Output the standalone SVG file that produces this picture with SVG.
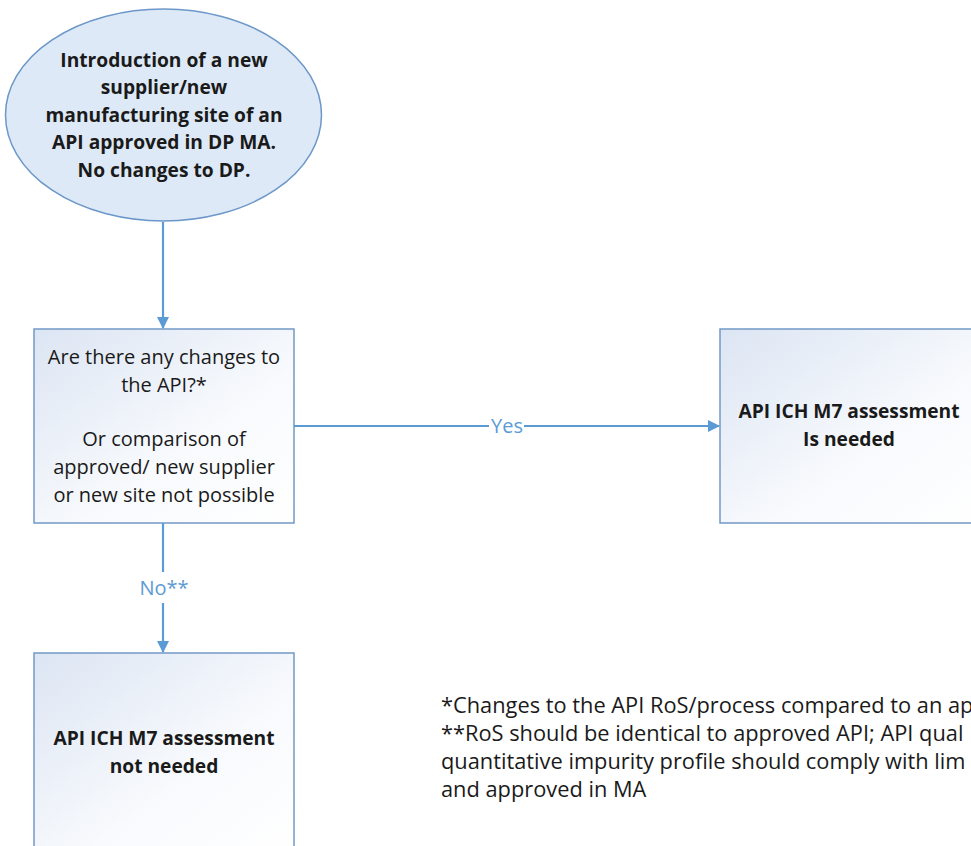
<svg xmlns="http://www.w3.org/2000/svg" width="971" height="846" viewBox="0 0 971 846">
<style>
.box{stroke:#7399c6;stroke-width:1.5;fill:url(#g)}
.ell{stroke:#6c97c9;stroke-width:1.5;fill:#dde9f6}
.t{font-family:"Open Sans","Noto Sans",sans-serif;font-size:20px;fill:#1a1a1a;text-anchor:middle}
.b{font-weight:bold;font-size:19.2px}
.edge{stroke:#5b9bd5;stroke-width:2.2;fill:none}
.lbl{font-family:"Open Sans","Noto Sans",sans-serif;font-size:20px;fill:#5b9bd5;text-anchor:middle}
.note{font-family:"Open Sans","Noto Sans",sans-serif;font-size:21.8px;fill:#1a1a1a}
</style>
<defs>
<linearGradient id="g" x1="0" y1="0" x2="1" y2="1">
<stop offset="0" stop-color="#dce5f3"/>
<stop offset="0.6" stop-color="#f8fafd"/>
<stop offset="1" stop-color="#ffffff"/>
</linearGradient>
<marker id="ah" markerWidth="12" markerHeight="12" refX="11" refY="6" orient="auto" markerUnits="userSpaceOnUse">
<path d="M0,0 L12,6 L0,12 Z" fill="#5b9bd5"/>
</marker>
</defs>
<rect width="971" height="846" fill="#ffffff"/>
<g id="start">
<ellipse class="ell" cx="163.5" cy="115" rx="158" ry="106"/>
<text class="t b" x="164" y="67">Introduction of a new</text>
<text class="t b" x="164" y="94">supplier/new</text>
<text class="t b" x="164" y="122">manufacturing site of an</text>
<text class="t b" x="164" y="149">API approved in DP MA.</text>
<text class="t b" x="164" y="177">No changes to DP.</text>
</g>
<g id="decision">
<rect class="box" x="34" y="329" width="260" height="194"/>
<text class="t" x="164" y="364">Are there any changes to</text>
<text class="t" x="164" y="392">the API?*</text>
<text class="t" x="164" y="446">Or comparison of</text>
<text class="t" x="164" y="474">approved/ new supplier</text>
<text class="t" x="164" y="502">or new site not possible</text>
</g>
<g id="needed">
<rect class="box" x="720" y="329" width="262" height="194"/>
<text class="t b" x="849" y="418">API ICH M7 assessment</text>
<text class="t b" x="849" y="446">Is needed</text>
</g>
<g id="notneeded">
<rect class="box" x="34" y="653" width="260" height="200"/>
<text class="t b" x="164" y="745">API ICH M7 assessment</text>
<text class="t b" x="164" y="773">not needed</text>
</g>
<g id="connectors">
<line class="edge" x1="163" y1="222" x2="163" y2="328" marker-end="url(#ah)"/>
<line class="edge" x1="294" y1="426" x2="489" y2="426"/>
<line class="edge" x1="524" y1="426" x2="719" y2="426" marker-end="url(#ah)"/>
<text class="lbl" x="507" y="433">Yes</text>
<line class="edge" x1="163" y1="523" x2="163" y2="572"/>
<line class="edge" x1="163" y1="603" x2="163" y2="652" marker-end="url(#ah)"/>
<text class="lbl" x="164" y="595">No**</text>
</g>
<g id="notes">
<text class="note" x="441" y="713">*Changes to the API RoS/process compared to an ap</text>
<text class="note" x="441" y="741">**RoS should be identical to approved API; API qual</text>
<text class="note" x="441" y="769">quantitative impurity profile should comply with lim</text>
<text class="note" x="441" y="797">and approved in MA</text>
</g>
</svg>
